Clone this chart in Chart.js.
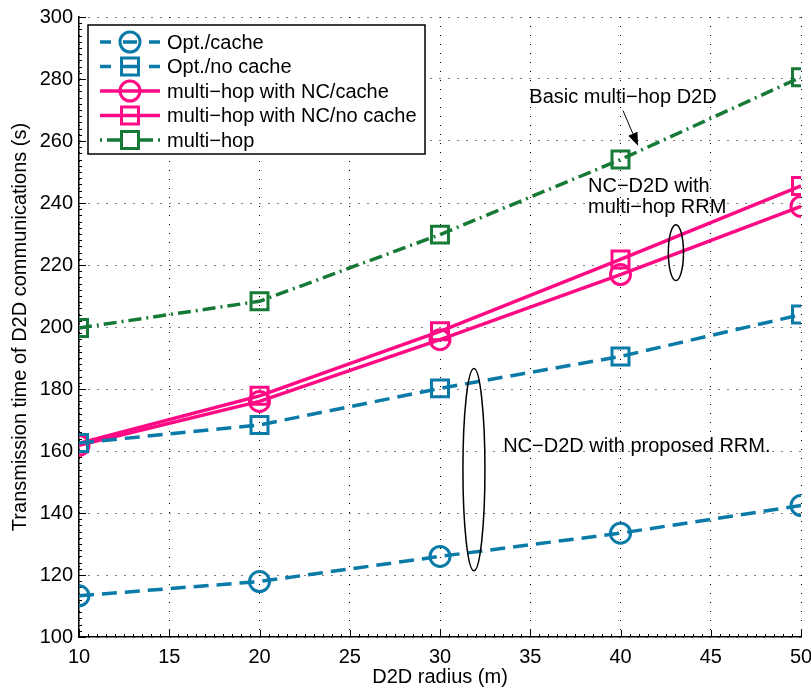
<!DOCTYPE html>
<html>
<head>
<meta charset="utf-8">
<script src="https://cdn.jsdelivr.net/npm/chart.js@4.4.1/dist/chart.umd.min.js"></script>
<style>
  html,body{margin:0;padding:0;background:#fff;}
  #wrap{width:811px;height:693px;position:relative;}
</style>
</head>
<body>
<div id="wrap"><canvas id="c" width="811" height="693"></canvas></div>
<script>
// data
const radius      = [10, 20, 30, 40, 50];
const optCache    = [113.3, 117.9, 126.0, 133.5, 142.4];
const optNoCache  = [162.6, 168.4, 180.2, 190.5, 204.0];
const ncCache     = [161.8, 176.0, 195.9, 216.9, 238.9];
const ncNoCache   = [162.5, 177.8, 198.6, 221.8, 245.5];
const multiHop    = [199.7, 208.3, 229.8, 254.0, 280.6];
const seriesNames = ['Opt./cache', 'Opt./no cache', 'multi\u2212hop with NC/cache', 'multi\u2212hop with NC/no cache', 'multi\u2212hop'];

const FONT = '"Liberation Sans", Arial, Helvetica, sans-serif';
const BLUE = '#0a7aa8', PINK = '#ff0a84', GREEN = '#167a36';
const DASH = [15, 8], DASHDOT = [13, 5, 2, 5];

function pts(ys){ return radius.map((x,i)=>({x, y:ys[i]})); }

function ds(label, ys, color, dash, style){
  return {
    label, data: pts(ys), borderColor: color, borderWidth: 3.5, borderDash: dash,
    pointStyle: style, pointRadius: style==='rect' ? 12 : 10, pointHoverRadius: 10,
    pointBorderColor: color, pointBackgroundColor: 'transparent', pointBorderWidth: 3,
    tension: 0, fill: false
  };
}

// annotations, in data units
const notes = [
  {lines:['Basic multi\u2212hop D2D'], x:40.14, y:274.0, align:'center'},
  {lines:['NC\u2212D2D with', 'multi\u2212hop RRM'], x:38.2, y:245.3, align:'left'},
  {lines:['NC\u2212D2D with proposed RRM.'], x:33.5, y:161.4, align:'left'}
];
const ellipses = [ {x:43.07, y:224, rx:0.42, ry:9.0}, {x:31.88, y:154, rx:0.61, ry:32.6} ];
const arrows = [ {x0:40.14, y0:269.8, x1:40.97, y1:258.5} ];

// legend sample segments (relative to sample start, 60px wide)
const legendSegs = {
  dash:    [[0, 11], [23, 37], [49, 60]],
  dashdot: [[0, 2], [7, 20], [40, 53], [58, 60]],
  solid:   [[0, 60]]
};

const decor = {
  id: 'decor',
  beforeDatasetsDraw(chart){
    const {ctx, chartArea:a, scales:{x, y}} = chart;
    ctx.save();
    ctx.strokeStyle = '#000'; ctx.lineWidth = 1;
    // minor + major ticks, pointing inward
    for(let v=10; v<=50.001; v+=0.5){
      const px = Math.round(x.getPixelForValue(v))+0.5;
      const len = (Math.abs(v % 5) < 1e-6) ? 7 : 3;
      ctx.beginPath(); ctx.moveTo(px, a.bottom); ctx.lineTo(px, a.bottom-len); ctx.stroke();
    }
    for(let v=100; v<=300.001; v+=2){
      const py = Math.round(y.getPixelForValue(v))+0.5;
      const len = (v % 20 === 0) ? 7 : 3;
      ctx.beginPath(); ctx.moveTo(a.left, py); ctx.lineTo(a.left+len, py); ctx.stroke();
    }
    ctx.restore();
  },
  afterDatasetsDraw(chart){
    const {ctx, chartArea:a, scales:{x, y}} = chart;
    ctx.save();
    // annotations
    ctx.fillStyle = '#000'; ctx.strokeStyle = '#000';
    ctx.font = '20px ' + FONT; ctx.textBaseline = 'middle';
    notes.forEach(n=>{
      ctx.textAlign = n.align;
      n.lines.forEach((t,i)=> ctx.fillText(t, x.getPixelForValue(n.x), y.getPixelForValue(n.y) + i*21));
    });
    ctx.lineWidth = 1.5;
    ellipses.forEach(e=>{
      const cx = x.getPixelForValue(e.x), cy = y.getPixelForValue(e.y);
      const rx = x.getPixelForValue(e.x+e.rx) - cx, ry = cy - y.getPixelForValue(e.y+e.ry);
      ctx.beginPath(); ctx.ellipse(cx, cy, rx, ry, 0, 0, Math.PI*2); ctx.stroke();
    });
    arrows.forEach(r=>{
      const x0 = x.getPixelForValue(r.x0), y0 = y.getPixelForValue(r.y0);
      const x1 = x.getPixelForValue(r.x1), y1 = y.getPixelForValue(r.y1);
      const ang = Math.atan2(y1-y0, x1-x0), hl = 13, hw = 5;
      const bx = x1 - hl*Math.cos(ang), by = y1 - hl*Math.sin(ang);
      ctx.lineWidth = 1;
      ctx.beginPath(); ctx.moveTo(x0, y0); ctx.lineTo(bx, by); ctx.stroke();
      ctx.beginPath(); ctx.moveTo(x1, y1);
      ctx.lineTo(bx + hw*Math.sin(ang), by - hw*Math.cos(ang));
      ctx.lineTo(bx - hw*Math.sin(ang), by + hw*Math.cos(ang));
      ctx.closePath(); ctx.fill();
    });

    // legend box
    const L = a.left + 9, T = a.top + 8, W = 337, H = 129;
    ctx.fillStyle = '#fff'; ctx.fillRect(L, T, W, H);
    ctx.lineWidth = 1.5; ctx.strokeStyle = '#000'; ctx.strokeRect(L, T, W, H);
    ctx.font = '20px ' + FONT; ctx.textAlign = 'left'; ctx.textBaseline = 'middle';
    chart.data.datasets.forEach((d,i)=>{
      const cy = T + 17 + i*24.5, x0 = L + 12, mx = x0 + 30;
      const segs = d.borderDash === DASH ? legendSegs.dash : d.borderDash === DASHDOT ? legendSegs.dashdot : legendSegs.solid;
      ctx.strokeStyle = d.borderColor; ctx.lineWidth = 3.5;
      ctx.beginPath();
      segs.forEach(s=>{ ctx.moveTo(x0+s[0], cy); ctx.lineTo(x0+s[1], cy); });
      ctx.stroke();
      ctx.lineWidth = 3;
      ctx.beginPath();
      if(d.pointStyle==='rect'){ const s = 8.5; ctx.rect(mx-s, cy-s, 2*s, 2*s); }
      else ctx.arc(mx, cy, 10, 0, Math.PI*2);
      ctx.stroke();
      ctx.fillStyle = '#000';
      ctx.fillText(d.label, L + 79, cy + 1);
    });
    ctx.restore();
  }
};

const tickFont = {family: FONT, size: 20};
new Chart(document.getElementById('c'), {
  type: 'line',
  data: {
    datasets: [
      ds(seriesNames[0], optCache,   BLUE,  DASH,    'circle'),
      ds(seriesNames[1], optNoCache, BLUE,  DASH,    'rect'),
      ds(seriesNames[2], ncCache,    PINK,  [],      'circle'),
      ds(seriesNames[3], ncNoCache,  PINK,  [],      'rect'),
      ds(seriesNames[4], multiHop,   GREEN, DASHDOT, 'rect')
    ]
  },
  options: {
    responsive: false, animation: false,
    layout: {autoPadding: false, padding: {top: 17, right: 10, left: 0, bottom: 0}},
    plugins: {legend: {display: false}, tooltip: {enabled: false}},
    scales: {
      x: {
        type: 'linear', min: 10, max: 50,
        ticks: {stepSize: 5, color: '#000', font: tickFont, padding: 8, maxRotation: 0},
        grid: {color: '#000', lineWidth: 1, drawTicks: false},
        border: {display: true, color: '#000', width: 1.5, dash: [1, 8]},
        title: {display: true, text: 'D2D radius (m)', color: '#000', font: tickFont, padding: {top: 0}},
        afterFit(s){ s.height = 56; s.paddingRight = 0; s.paddingLeft = 0; }
      },
      y: {
        min: 100, max: 300,
        ticks: {stepSize: 20, color: '#000', font: tickFont, padding: 6},
        grid: {color: '#000', lineWidth: 1, drawTicks: false},
        border: {display: true, color: '#000', width: 1.5, dash: [1, 8]},
        title: {display: true, text: 'Transmission time of D2D communications (s)', color: '#000', font: tickFont, padding: {bottom: 0, top: 8}},
        afterFit(s){ s.width = 79; s.paddingTop = 0; s.paddingBottom = 0; }
      }
    }
  },
  plugins: [decor]
});
</script>
</body>
</html>
